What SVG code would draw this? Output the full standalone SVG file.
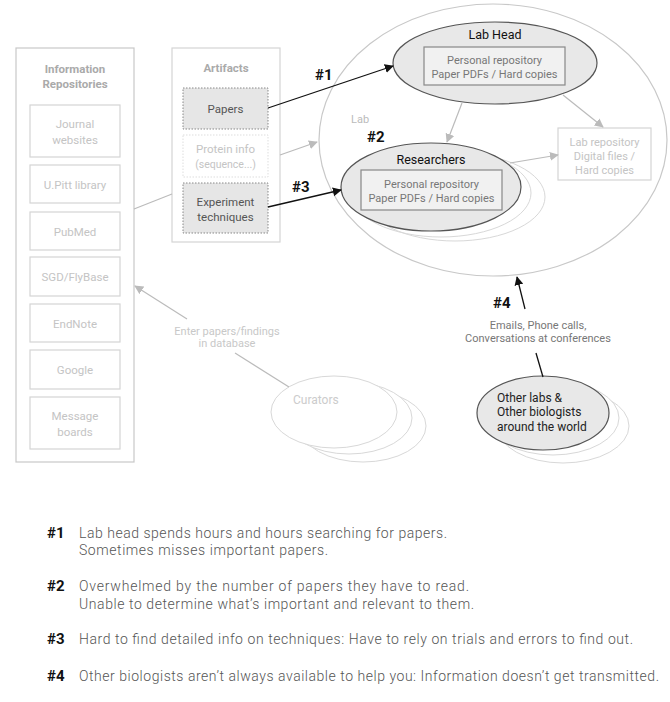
<svg xmlns="http://www.w3.org/2000/svg" width="670" height="702" viewBox="0 0 670 702">
<defs>
<marker id="ab" viewBox="0 0 10 10" refX="9" refY="5" markerWidth="9" markerHeight="9" markerUnits="userSpaceOnUse" orient="auto"><path d="M0,0 L10,5 L0,10 z" fill="#111"/></marker>
<marker id="ag" viewBox="0 0 10 10" refX="9" refY="5" markerWidth="9" markerHeight="9" markerUnits="userSpaceOnUse" orient="auto"><path d="M0,0 L10,5 L0,10 z" fill="#bbb"/></marker>
</defs>
<style>
text{font-family:Roboto,"Liberation Sans",sans-serif;}
.lt{font-size:11.5px;fill:#c4c4c4;text-anchor:middle;}
.ttl{font-size:11.5px;font-weight:bold;fill:#aaa;text-anchor:middle;}
.lbox{fill:#fff;stroke:#d4d4d4;stroke-width:1.2;}
.big{fill:none;stroke:#c8c8c8;stroke-width:1.2;}
.dk{font-size:11.5px;fill:#555;text-anchor:middle;}
.dot{fill:#e6e6e6;stroke:#888;stroke-width:1;stroke-dasharray:1.5 1.5;}
.dotl{fill:none;stroke:#ddd;stroke-width:1;stroke-dasharray:1.5 1.5;}
.ell{fill:#e8e8e8;stroke:#555;stroke-width:1.2;}
.inr{fill:#f1f1f1;stroke:#888;stroke-width:1.2;}
.inrt{font-size:11px;fill:#777;text-anchor:middle;}
.hd{font-size:12.5px;fill:#111;text-anchor:middle;}
.num{font-size:15px;font-weight:bold;fill:#111;}
.ghost{fill:none;stroke:#d8d8d8;stroke-width:1;}
.cb{stroke:#111;stroke-width:1.3;fill:none;marker-end:url(#ab);}
.cg{stroke:#bbb;stroke-width:1.2;fill:none;}
.cga{stroke:#bbb;stroke-width:1.2;fill:none;marker-end:url(#ag);}
.note{font-size:14px;font-weight:300;fill:#555;}
</style>

<g id="info-repositories">
<rect x="16" y="48" width="118" height="414" class="big"/>
<text x="75" y="73" class="ttl">Information</text>
<text x="75" y="88" class="ttl">Repositories</text>
</g>
<g id="journal-websites"><rect x="30" y="105" width="90" height="52" class="lbox"/><text x="75" y="128" class="lt">Journal</text><text x="75" y="144" class="lt">websites</text></g>
<g id="upitt-library"><rect x="30" y="165" width="90" height="38" class="lbox"/><text x="75" y="189" class="lt">U.Pitt library</text></g>
<g id="pubmed"><rect x="30" y="212" width="90" height="38" class="lbox"/><text x="75" y="236" class="lt">PubMed</text></g>
<g id="sgd-flybase"><rect x="30" y="257" width="90" height="39" class="lbox"/><text x="75" y="281" class="lt">SGD/FlyBase</text></g>
<g id="endnote"><rect x="30" y="304" width="90" height="38" class="lbox"/><text x="75" y="328" class="lt">EndNote</text></g>
<g id="google"><rect x="30" y="350" width="90" height="39" class="lbox"/><text x="75" y="374" class="lt">Google</text></g>
<g id="message-boards"><rect x="30" y="397" width="90" height="52" class="lbox"/><text x="75" y="420" class="lt">Message</text><text x="75" y="436" class="lt">boards</text></g>

<g id="artifacts">
<rect x="172" y="48" width="108" height="194" class="lbox"/>
<text x="226" y="72" class="ttl">Artifacts</text>
</g>
<g id="papers"><rect x="183" y="88" width="85" height="41" class="dot"/><text x="225.5" y="113" class="dk">Papers</text></g>
<g id="protein-info"><rect x="183" y="135" width="85" height="42" class="dotl"/><text x="225.5" y="153" class="lt">Protein info</text><text x="225.5" y="168" class="lt" style="font-size:10.5px">(sequence...)</text></g>
<g id="experiment-techniques"><rect x="183" y="183" width="85" height="50" class="dot"/><text x="225.5" y="206" class="dk">Experiment</text><text x="225.5" y="221" class="dk">techniques</text></g>

<g id="lab">
<ellipse cx="493" cy="140" rx="174" ry="136" class="big"/>
<text x="351" y="123" style="font-size:11px;fill:#bbb">Lab</text>
</g>

<g id="lab-repository">
<rect x="558" y="128" width="93" height="52" class="lbox"/>
<text x="604.5" y="146" class="lt" style="font-size:11px">Lab repository</text>
<text x="604.5" y="160" class="lt" style="font-size:11px">Digital files /</text>
<text x="604.5" y="174" class="lt" style="font-size:11px">Hard copies</text>
</g>

<g id="lab-head">
<ellipse cx="495" cy="63" rx="102" ry="41" class="ell"/>
<text x="495" y="39" class="hd">Lab Head</text>
<rect x="424" y="47" width="141" height="38" class="inr"/>
<text x="494.5" y="64" class="inrt">Personal repository</text>
<text x="494.5" y="78" class="inrt">Paper PDFs / Hard copies</text>
</g>

<g id="researchers">
<ellipse cx="455" cy="197" rx="90" ry="44" class="ghost"/>
<ellipse cx="441" cy="193" rx="90" ry="44" class="ghost"/>
<ellipse cx="431" cy="187" rx="90" ry="44" class="ell"/>
<text x="431" y="164" class="hd">Researchers</text>
<rect x="361" y="170" width="141" height="40" class="inr"/>
<text x="431.5" y="188" class="inrt">Personal repository</text>
<text x="431.5" y="202" class="inrt">Paper PDFs / Hard copies</text>
</g>

<g id="curators">
<ellipse cx="363" cy="426" rx="63" ry="36" class="ghost"/>
<ellipse cx="349" cy="418" rx="63" ry="36" class="ghost" style="fill:#fff"/>
<ellipse cx="334" cy="412" rx="63" ry="36" class="ghost" style="fill:#fff"/>
<text x="293" y="404" style="font-size:12px;fill:#ccc">Curators</text>
</g>

<g id="other-labs">
<ellipse cx="563" cy="426" rx="66" ry="37" class="ghost"/>
<ellipse cx="553" cy="418" rx="66" ry="37" class="ghost" style="fill:#fff"/>
<ellipse cx="543" cy="413" rx="66" ry="37" class="ell"/>
<text x="497" y="402" style="font-size:12px;fill:#222">Other labs &amp;</text>
<text x="497" y="416" style="font-size:12px;fill:#222">Other biologists</text>
<text x="497" y="431" style="font-size:12px;fill:#222">around the world</text>
</g>

<g id="connectors">
<line x1="134" y1="209" x2="172" y2="194" class="cg"/>
<line x1="268" y1="108" x2="393" y2="66" class="cb"/>
<line x1="280" y1="155" x2="317" y2="142" class="cga"/>
<line x1="268" y1="207" x2="341" y2="190" class="cb"/>
<line x1="462" y1="103" x2="447" y2="142" class="cga"/>
<line x1="563" y1="95" x2="603" y2="127" class="cga"/>
<line x1="510" y1="163" x2="558" y2="155" class="cga"/>
<line x1="543" y1="377" x2="536" y2="353" class="cb" style="marker-end:none"/>
<line x1="525" y1="309" x2="517" y2="277" class="cb"/>
<line x1="289" y1="387" x2="235" y2="353" class="cg"/>
<line x1="187" y1="319" x2="135" y2="286" class="cga"/>
<text x="315" y="80" class="num">#1</text>
<text x="367" y="142" class="num">#2</text>
<text x="292" y="192" class="num">#3</text>
<text x="493" y="308" class="num">#4</text>
<text x="538" y="329" style="font-size:11px;fill:#777;text-anchor:middle">Emails, Phone calls,</text>
<text x="538" y="342" style="font-size:11px;fill:#777;text-anchor:middle">Conversations at conferences</text>
<text x="227" y="335" style="font-size:11px;fill:#c8c8c8;text-anchor:middle">Enter papers/findings</text>
<text x="227" y="347" style="font-size:11px;fill:#c8c8c8;text-anchor:middle">in database</text>
</g>

<g id="notes">
<text x="47" y="538" class="num">#1</text>
<text x="79" y="538" class="note" textLength="368">Lab head spends hours and hours searching for papers.</text>
<text x="79" y="555" class="note" textLength="249">Sometimes misses important papers.</text>
<text x="47" y="591" class="num">#2</text>
<text x="79" y="591" class="note" textLength="390">Overwhelmed by the number of papers they have to read.</text>
<text x="79" y="609" class="note" textLength="395">Unable to determine what’s important and relevant to them.</text>
<text x="47" y="644" class="num">#3</text>
<text x="79" y="644" class="note" textLength="554">Hard to find detailed info on techniques: Have to rely on trials and errors to find out.</text>
<text x="47" y="681" class="num">#4</text>
<text x="79" y="681" class="note" textLength="580">Other biologists aren’t always available to help you: Information doesn’t get transmitted.</text>
</g>
</svg>
